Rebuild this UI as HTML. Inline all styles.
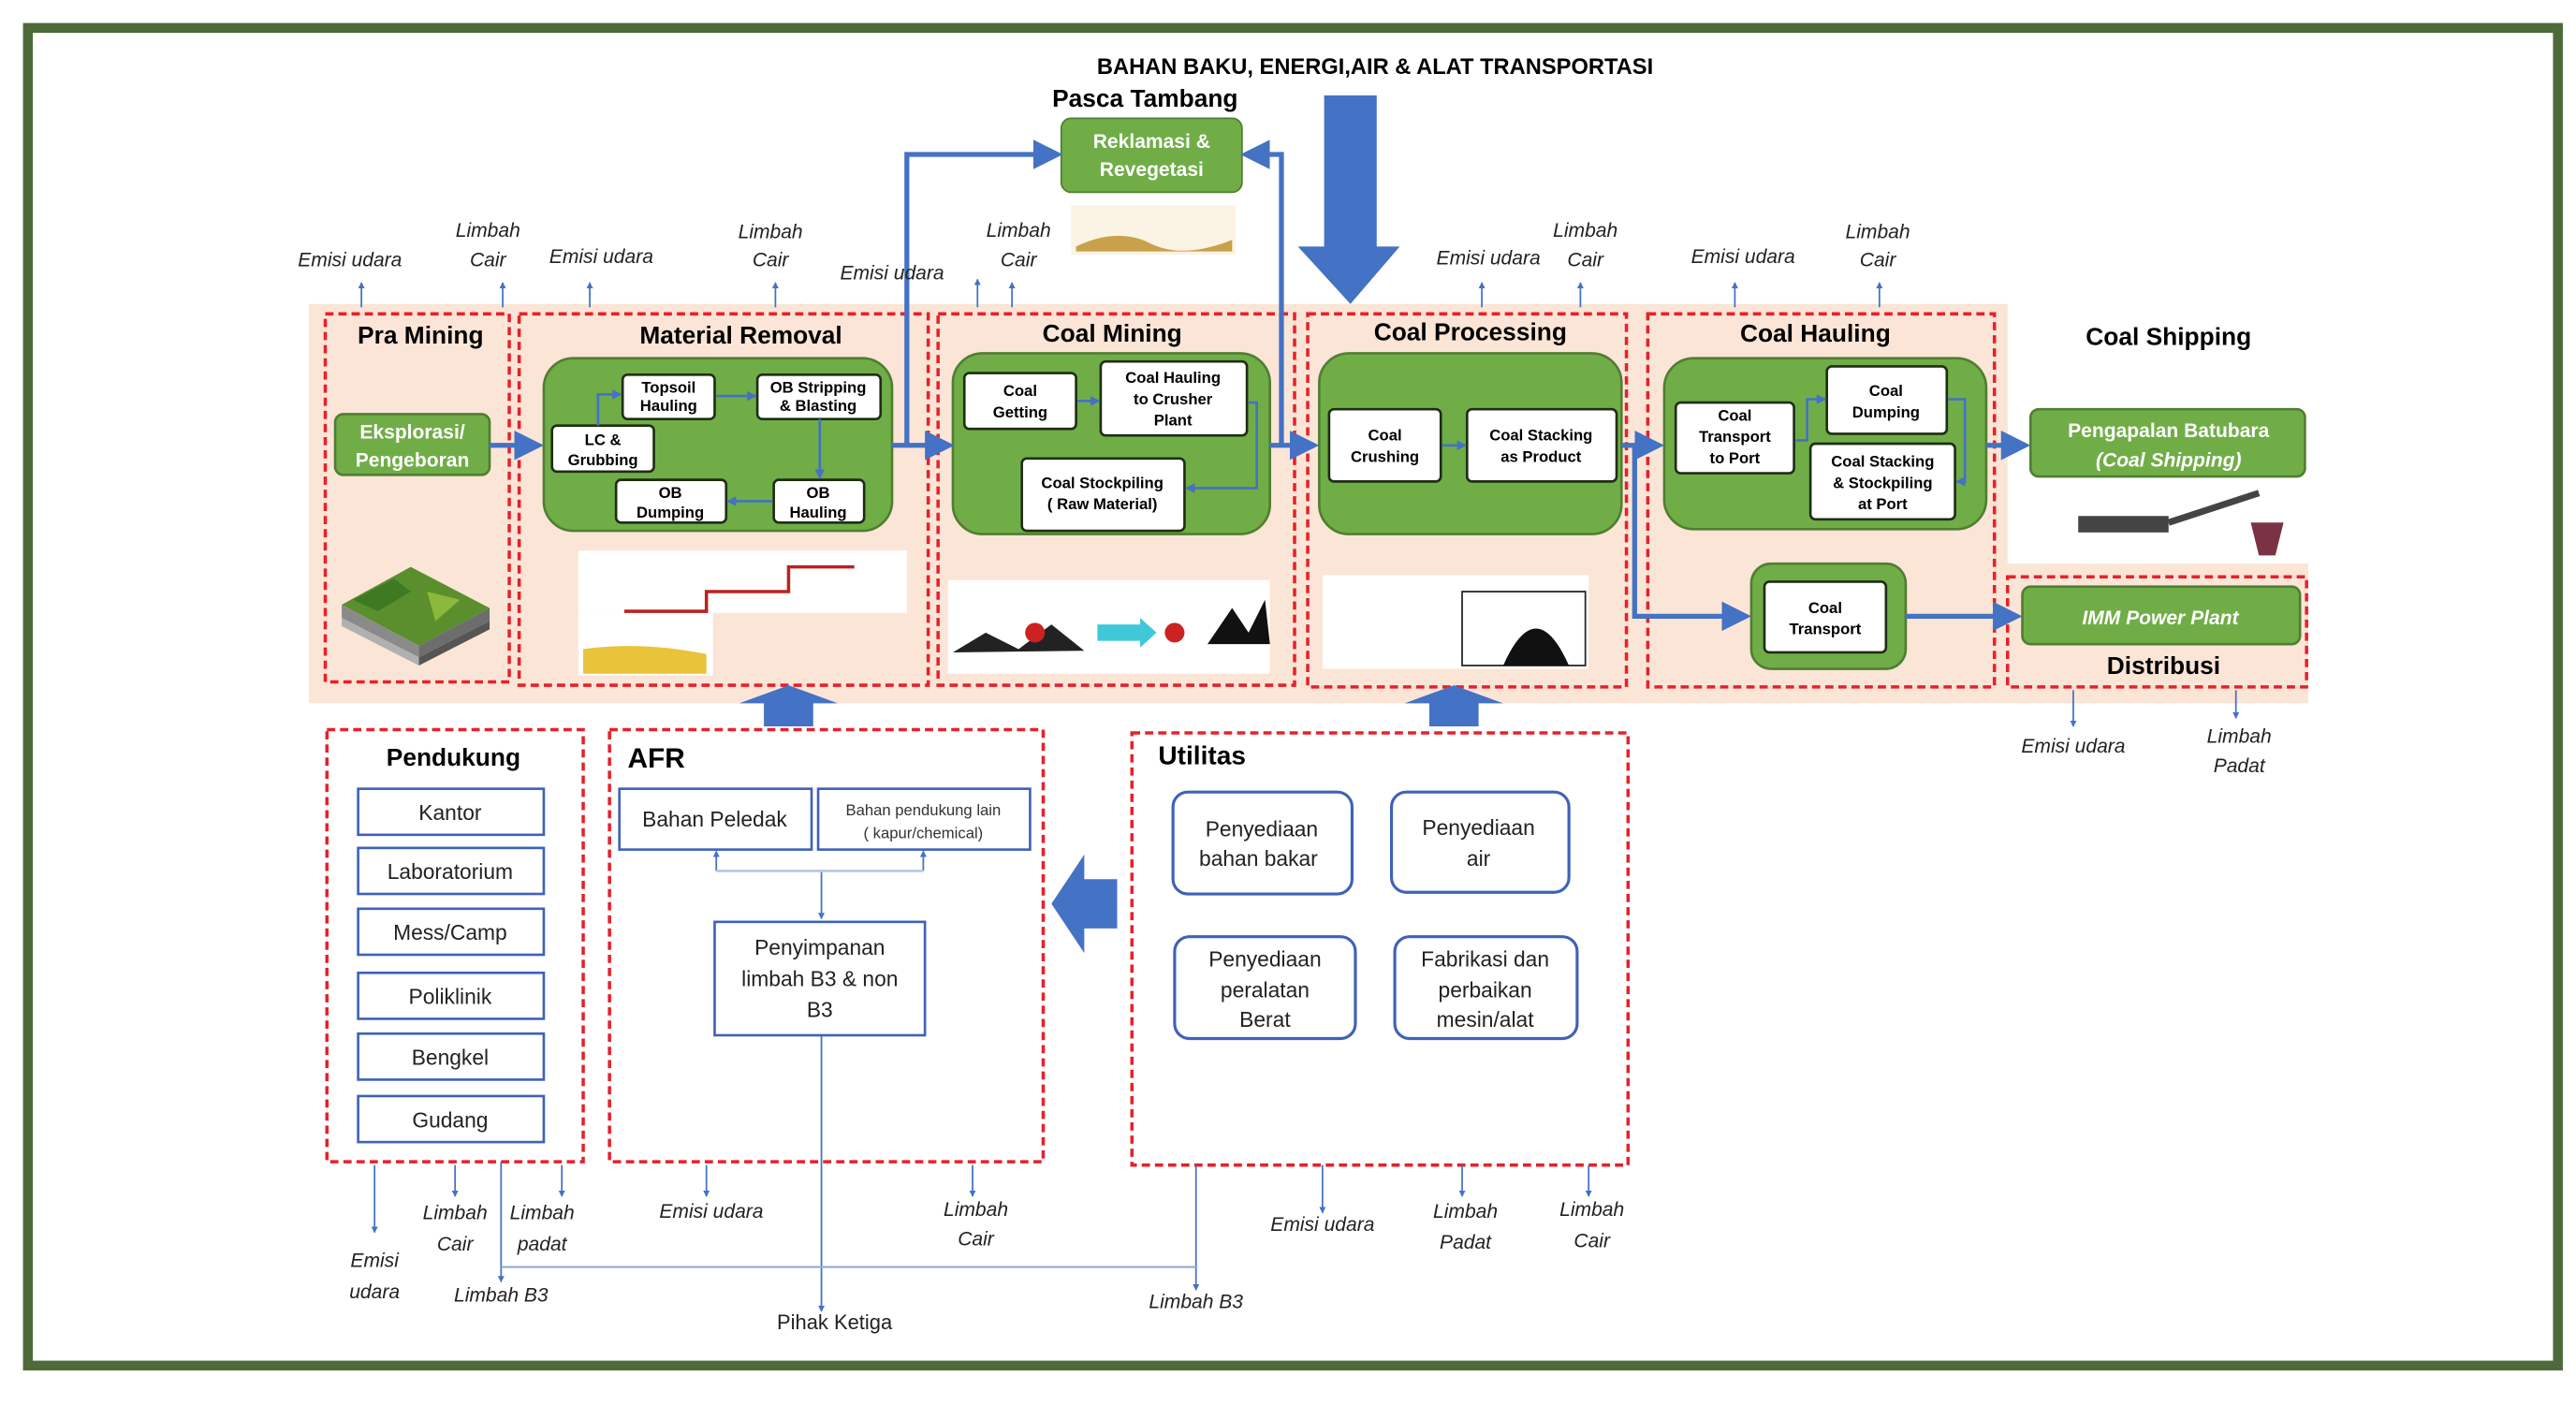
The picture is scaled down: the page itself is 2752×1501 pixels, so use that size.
<!DOCTYPE html>
<html><head><meta charset="utf-8"><style>
html,body{margin:0;padding:0;background:#fff;}
svg{display:block;}
text{font-family:"Liberation Sans",sans-serif;}
.h{font-weight:bold;font-size:15px;fill:#000;}
.w{fill:#fff;font-size:12px;font-weight:bold;}
.b{fill:#000;font-size:9.5px;font-weight:bold;}
.e{font-style:italic;font-size:12px;fill:#222;}
.n{font-size:13px;fill:#222;}
</style></head><body>
<svg width="2752" height="1501" viewBox="0 0 1568 855" preserveAspectRatio="none" xmlns="http://www.w3.org/2000/svg">
<defs>
<marker id="a" markerWidth="6" markerHeight="6" refX="5" refY="3" orient="auto"><path d="M0,0 L6,3 L0,6 z" fill="#4472c4"/></marker>
<marker id="s" markerWidth="4" markerHeight="4" refX="3.5" refY="2" orient="auto"><path d="M0,0 L4,2 L0,4 z" fill="#4472c4"/></marker>
</defs>
<rect x="0" y="0" width="1568" height="855" fill="#fff"/>
<rect x="17" y="17" width="1540" height="814" fill="none" stroke="#4f6a3a" stroke-width="6"/>

<text x="837" y="45" text-anchor="middle" style="font-weight:bold;font-size:13.5px">BAHAN BAKU, ENERGI,AIR &amp; ALAT TRANSPORTASI</text>
<text x="697" y="65" text-anchor="middle" class="h">Pasca Tambang</text>

<path d="M188,185 H1222 V343 H1405 V428 H188 Z" fill="#fbe5d6"/>

<path d="M806,58 H838 V150 H852 L822,185 L790,150 H806 Z" fill="#4472c4"/>

<rect x="646" y="72" width="110" height="45" rx="6" fill="#70ad47" stroke="#507e32"/>
<text x="701" y="90" text-anchor="middle" class="w">Reklamasi &amp;</text>
<text x="701" y="107" text-anchor="middle" class="w">Revegetasi</text>
<rect x="652" y="125" width="100" height="30" fill="#fbf3e4"/>
<path d="M655,150 Q680,138 700,148 T750,146 V153 H655Z" fill="#c9a14a"/>

<g fill="none" stroke="#e8202a" stroke-width="2" stroke-dasharray="5,3">
<rect x="198" y="191" width="112" height="224"/>
<rect x="316" y="191" width="249" height="226"/>
<rect x="571" y="191" width="217" height="226"/>
<rect x="796" y="191" width="194" height="227"/>
<rect x="1003" y="191" width="211" height="227"/>
<rect x="1222" y="351" width="182" height="67"/>
<rect x="199" y="444" width="156" height="263"/>
<rect x="371" y="444" width="264" height="263"/>
<rect x="689" y="446" width="302" height="263"/>
</g>

<text x="256" y="209" text-anchor="middle" class="h">Pra Mining</text>
<text x="451" y="209" text-anchor="middle" class="h">Material Removal</text>
<text x="677" y="208" text-anchor="middle" class="h">Coal Mining</text>
<text x="895" y="207" text-anchor="middle" class="h">Coal Processing</text>
<text x="1105" y="208" text-anchor="middle" class="h">Coal Hauling</text>
<text x="1320" y="210" text-anchor="middle" class="h">Coal Shipping</text>
<text x="1317" y="410" text-anchor="middle" class="h">Distribusi</text>

<g fill="#70ad47" stroke="#507e32" stroke-width="1.5">
<rect x="331" y="218" width="212" height="105" rx="18"/>
<rect x="580" y="215" width="193" height="110" rx="18"/>
<rect x="803" y="215" width="184" height="110" rx="18"/>
<rect x="1013" y="218" width="196" height="104" rx="18"/>
<rect x="1066" y="343" width="94" height="64" rx="12"/>
<rect x="204" y="252" width="94" height="37" rx="5"/>
<rect x="1236" y="249" width="167" height="41" rx="5"/>
<rect x="1231" y="357" width="169" height="35" rx="5"/>
</g>
<text x="251" y="267" text-anchor="middle" class="w">Eksplorasi/</text>
<text x="251" y="284" text-anchor="middle" class="w">Pengeboran</text>
<text x="1320" y="266" text-anchor="middle" class="w">Pengapalan Batubara</text>
<text x="1320" y="284" text-anchor="middle" class="w" font-style="italic">(Coal Shipping)</text>
<text x="1315" y="380" text-anchor="middle" class="w" font-style="italic">IMM Power Plant</text>

<g fill="#fff" stroke="#1f2d14" stroke-width="1.5">
<rect x="379" y="228" width="56" height="27" rx="3"/>
<rect x="461" y="228" width="75" height="27" rx="3"/>
<rect x="336" y="259" width="62" height="28" rx="3"/>
<rect x="375" y="292" width="67" height="26" rx="3"/>
<rect x="471" y="292" width="55" height="26" rx="3"/>
<rect x="587" y="227" width="68" height="34" rx="3"/>
<rect x="670" y="220" width="89" height="45" rx="3"/>
<rect x="622" y="279" width="99" height="44" rx="3"/>
<rect x="809" y="249" width="68" height="44" rx="3"/>
<rect x="893" y="249" width="91" height="44" rx="3"/>
<rect x="1020" y="245" width="72" height="43" rx="3"/>
<rect x="1112" y="223" width="73" height="41" rx="3"/>
<rect x="1102" y="270" width="88" height="46" rx="3"/>
<rect x="1074" y="354" width="74" height="43" rx="3"/>
</g>
<g class="b" text-anchor="middle">
<text x="407" y="239" class="b">Topsoil</text><text x="407" y="250" class="b">Hauling</text>
<text x="498" y="239" class="b">OB Stripping</text><text x="498" y="250" class="b">&amp; Blasting</text>
<text x="367" y="271" class="b">LC &amp;</text><text x="367" y="283" class="b">Grubbing</text>
<text x="408" y="303" class="b">OB</text><text x="408" y="315" class="b">Dumping</text>
<text x="498" y="303" class="b">OB</text><text x="498" y="315" class="b">Hauling</text>
<text x="621" y="241" class="b">Coal</text><text x="621" y="254" class="b">Getting</text>
<text x="714" y="233" class="b">Coal Hauling</text><text x="714" y="246" class="b">to Crusher</text><text x="714" y="259" class="b">Plant</text>
<text x="671" y="297" class="b">Coal Stockpiling</text><text x="671" y="310" class="b">( Raw Material)</text>
<text x="843" y="268" class="b">Coal</text><text x="843" y="281" class="b">Crushing</text>
<text x="938" y="268" class="b">Coal Stacking</text><text x="938" y="281" class="b">as Product</text>
<text x="1056" y="256" class="b">Coal</text><text x="1056" y="269" class="b">Transport</text><text x="1056" y="282" class="b">to Port</text>
<text x="1148" y="241" class="b">Coal</text><text x="1148" y="254" class="b">Dumping</text>
<text x="1146" y="284" class="b">Coal Stacking</text><text x="1146" y="297" class="b">&amp; Stockpiling</text><text x="1146" y="310" class="b">at Port</text>
<text x="1111" y="373" class="b">Coal</text><text x="1111" y="386" class="b">Transport</text>
</g>

<g stroke="#4472c4" stroke-width="1.5" fill="none" marker-end="url(#s)">
<path d="M364,259 V240 H378"/>
<path d="M436,241 H460"/>
<path d="M499,255 V291"/>
<path d="M470,305 H443"/>
<path d="M656,244 H669"/>
<path d="M760,245 H765 V297 H722"/>
<path d="M878,271 H892"/>
<path d="M1093,268 H1100 V243 H1111"/>
<path d="M1186,243 H1196 V293 H1191"/>
</g>
<g stroke="#4472c4" stroke-width="3" fill="none" marker-end="url(#a)">
<path d="M298,271 H328"/>
<path d="M543,271 H578"/>
<path d="M773,271 H800"/>
<path d="M987,271 H1010"/>
<path d="M1209,271 H1233"/>
<path d="M995,271 V375 H1063"/>
<path d="M1160,375 H1228"/>
<path d="M552,271 V94 H644"/>
<path d="M780,271 V94 H758"/>
</g>

<path d="M208,368 L250,345 L298,370 L255,393 Z" fill="#5b8f2e"/>
<path d="M215,365 L240,352 L250,360 L230,372Z" fill="#3e7a22"/>
<path d="M260,360 L280,365 L265,378Z" fill="#8cb83c"/>
<path d="M208,368 L255,393 V400 L208,376Z" fill="#8a8a8a"/><path d="M255,393 L298,370 V378 L255,400Z" fill="#6d6d6d"/>
<path d="M208,376 L255,400 V405 L208,381Z" fill="#b0b0b0"/><path d="M255,400 L298,378 V383 L255,405Z" fill="#555"/>
<rect x="352" y="335" width="200" height="38" fill="#fff"/>
<rect x="352" y="373" width="82" height="38" fill="#fff"/>
<path d="M355,395 Q390,390 430,398 V410 H355Z" fill="#e9c33a"/>
<path d="M380,372 H430 V360 H480 V345 H520" stroke="#b22" stroke-width="2" fill="none"/>
<rect x="577" y="353" width="196" height="57" fill="#fff"/>
<path d="M580,397 L600,385 L620,395 L640,380 L660,396 Z" fill="#222"/>
<path d="M668,380 H694 V376 L704,385 L694,394 V390 H668 Z" fill="#3ec8d8"/>
<path d="M735,392 L750,370 L760,385 L770,365 L773,392Z" fill="#111"/>
<circle cx="630" cy="385" r="6" fill="#c22"/><circle cx="715" cy="385" r="6" fill="#c22"/>
<rect x="805" y="350" width="162" height="57" fill="#fff"/>
<path d="M890,405 V360 H965 V405Z" fill="none" stroke="#222"/>
<path d="M915,405 Q935,360 955,405Z" fill="#111"/>
<rect x="1262" y="295" width="130" height="45" fill="#fff"/>
<rect x="1265" y="314" width="55" height="10" fill="#444"/>
<path d="M1320,318 L1375,300" stroke="#444" stroke-width="4"/>
<path d="M1370,318 H1390 L1385,338 H1375Z" fill="#7a3345"/>

<g stroke="#4472c4" stroke-width="1" fill="none" marker-end="url(#s)">
<path d="M220,187 V172"/><path d="M306,187 V172"/><path d="M359,187 V172"/><path d="M472,187 V172"/>
<path d="M595,187 V170"/><path d="M616,187 V172"/><path d="M902,187 V172"/><path d="M962,187 V172"/>
<path d="M1056,187 V172"/><path d="M1144,187 V172"/>
<path d="M1262,420 V442"/><path d="M1361,420 V437"/>
<path d="M228,709 V750"/><path d="M277,709 V728"/><path d="M342,709 V728"/><path d="M430,709 V728"/><path d="M592,709 V728"/>
<path d="M805,709 V738"/><path d="M890,709 V728"/><path d="M967,709 V728"/>
<path d="M305,707 V780"/><path d="M728,709 V785"/><path d="M500,630 V798"/>
<path d="M500,530 V559"/><path d="M436,530 V518"/><path d="M562,530 V518"/>
</g>
<path d="M305,771 H728" stroke="#8faadc" stroke-width="1.2" fill="none"/>
<path d="M436,530 H562" stroke="#b4c7e7" stroke-width="1.5"/>
<g class="e" text-anchor="middle">
<text x="213" y="162" class="e">Emisi udara</text>
<text x="297" y="144" class="e">Limbah</text><text x="297" y="162" class="e">Cair</text>
<text x="366" y="160" class="e">Emisi udara</text>
<text x="469" y="145" class="e">Limbah</text><text x="469" y="162" class="e">Cair</text>
<text x="543" y="170" class="e">Emisi udara</text>
<text x="620" y="144" class="e">Limbah</text><text x="620" y="162" class="e">Cair</text>
<text x="906" y="161" class="e">Emisi udara</text>
<text x="965" y="144" class="e">Limbah</text><text x="965" y="162" class="e">Cair</text>
<text x="1061" y="160" class="e">Emisi udara</text>
<text x="1143" y="145" class="e">Limbah</text><text x="1143" y="162" class="e">Cair</text>
<text x="1262" y="458" class="e">Emisi udara</text>
<text x="1363" y="452" class="e">Limbah</text><text x="1363" y="470" class="e">Padat</text>
<text x="228" y="771" class="e">Emisi</text><text x="228" y="790" class="e">udara</text>
<text x="277" y="742" class="e">Limbah</text><text x="277" y="761" class="e">Cair</text>
<text x="330" y="742" class="e">Limbah</text><text x="330" y="761" class="e">padat</text>
<text x="305" y="792" class="e">Limbah B3</text>
<text x="433" y="741" class="e">Emisi udara</text>
<text x="594" y="740" class="e">Limbah</text><text x="594" y="758" class="e">Cair</text>
<text x="805" y="749" class="e">Emisi udara</text>
<text x="892" y="741" class="e">Limbah</text><text x="892" y="760" class="e">Padat</text>
<text x="969" y="740" class="e">Limbah</text><text x="969" y="759" class="e">Cair</text>
<text x="728" y="796" class="e">Limbah B3</text>
</g>
<text x="508" y="809" text-anchor="middle" class="n" style="font-size:12.5px">Pihak Ketiga</text>

<path d="M465,442 V428 H450 L480,417 L510,428 H495 V442Z" fill="#4472c4"/>
<path d="M870,442 V428 H855 L885,417 L915,428 H900 V442Z" fill="#4472c4"/>
<path d="M680,535 H660 V520 L640,550 L660,580 V565 H680Z" fill="#4472c4"/>

<text x="276" y="466" text-anchor="middle" class="h">Pendukung</text>
<g fill="#fff" stroke="#3f62b8" stroke-width="1.5">
<rect x="218" y="480" width="113" height="28"/><rect x="218" y="516" width="113" height="28"/>
<rect x="218" y="553" width="113" height="28"/><rect x="218" y="592" width="113" height="28"/>
<rect x="218" y="629" width="113" height="28"/><rect x="218" y="667" width="113" height="28"/>
</g>
<g class="n" text-anchor="middle">
<text x="274" y="499" class="n">Kantor</text><text x="274" y="535" class="n">Laboratorium</text>
<text x="274" y="572" class="n">Mess/Camp</text><text x="274" y="611" class="n">Poliklinik</text>
<text x="274" y="648" class="n">Bengkel</text><text x="274" y="686" class="n">Gudang</text>
</g>

<text x="382" y="467" class="h" style="font-size:17px">AFR</text>
<g fill="#fff" stroke="#3f62b8" stroke-width="1.5">
<rect x="377" y="480" width="117" height="37"/><rect x="498" y="480" width="129" height="37"/>
<rect x="435" y="561" width="128" height="69"/>
</g>
<text x="435" y="503" text-anchor="middle" class="n">Bahan Peledak</text>
<text x="562" y="496" text-anchor="middle" style="font-size:9.5px;fill:#333">Bahan pendukung lain</text>
<text x="562" y="510" text-anchor="middle" style="font-size:9.5px;fill:#333">( kapur/chemical)</text>
<text x="499" y="581" text-anchor="middle" class="n">Penyimpanan</text>
<text x="499" y="600" text-anchor="middle" class="n">limbah B3 &amp; non</text>
<text x="499" y="619" text-anchor="middle" class="n">B3</text>

<text x="705" y="465" class="h" style="font-size:16px">Utilitas</text>
<g fill="#fff" stroke="#3f62b8" stroke-width="1.8">
<rect x="714" y="482" width="109" height="62" rx="9"/><rect x="847" y="482" width="108" height="61" rx="9"/>
<rect x="715" y="570" width="110" height="62" rx="9"/><rect x="849" y="570" width="111" height="62" rx="9"/>
</g>
<g class="n" text-anchor="middle">
<text x="768" y="509" class="n">Penyediaan</text><text x="766" y="527" class="n">bahan bakar</text>
<text x="900" y="508" class="n">Penyediaan</text><text x="900" y="527" class="n">air</text>
<text x="770" y="588" class="n">Penyediaan</text><text x="770" y="607" class="n">peralatan</text><text x="770" y="625" class="n">Berat</text>
<text x="904" y="588" class="n">Fabrikasi dan</text><text x="904" y="607" class="n">perbaikan</text><text x="904" y="625" class="n">mesin/alat</text>
</g>
</svg>
</body></html>
